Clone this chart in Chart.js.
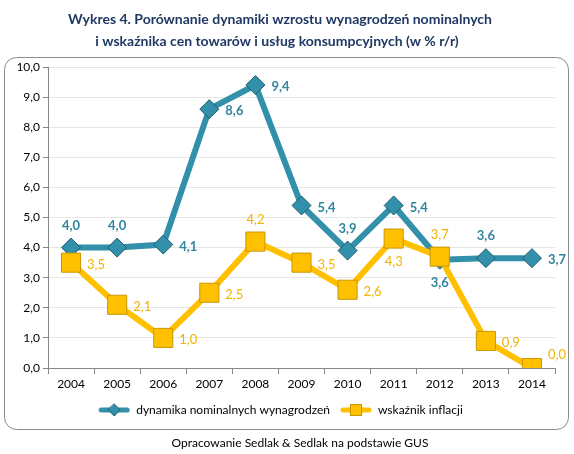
<!DOCTYPE html>
<html><head><meta charset="utf-8">
<script src="https://cdn.jsdelivr.net/npm/chart.js@4/dist/chart.umd.min.js"></script>
<style>html,body{margin:0;padding:0;background:#fff}#w{width:574px;height:454px}</style>
</head><body><div id="w"><canvas id="c" width="574" height="454"></canvas></div>
<script>
const years = ['2004','2005','2006','2007','2008','2009','2010','2011','2012','2013','2014'];
const wages = [4.0, 4.0, 4.1, 8.6, 9.4, 5.4, 3.9, 5.4, 3.6, 3.65, 3.65];
const wageLabels = ['4,0','4,0','4,1','8,6','9,4','5,4','3,9','5,4','3,6','3,6','3,7'];
const inflation = [3.5, 2.1, 1.0, 2.5, 4.2, 3.5, 2.6, 4.3, 3.7, 0.9, 0.0];
const inflationLabels = ['3,5','2,1','1,0','2,5','4,2','3,5','2,6','4,3','3,7','0,9','0,0'];
const wagePos = ['top','top','right','right','right','right','top','right','bottom','top','right'];
const inflPos = ['right','right','right','right','top','right','right','bottom','top','right','rightTop'];
const yTicks = [0,1,2,3,4,5,6,7,8,9,10];
const seriesNames = ['dynamika nominalnych wynagrodzeń','wskaźnik inflacji'];
const titleLines = ['Wykres 4. Porównanie dynamiki wzrostu wynagrodzeń nominalnych','i wskaźnika cen towarów i usług konsumpcyjnych (w % r/r)'];
const sourceText = 'Opracowanie Sedlak & Sedlak na podstawie GUS';

const TEAL='#3390AA', TEAL_D='#215E70', YEL='#FFC000', YEL_D='#C99700';
const FONT = "Lato, 'Open Sans', sans-serif";

function legendIcon(color, border, style){
  const c=document.createElement('canvas'); c.width=32; c.height=14;
  const x=c.getContext('2d');
  x.strokeStyle=color; x.lineWidth=5; x.lineCap='round';
  x.beginPath(); x.moveTo(3,7); x.lineTo(29,7); x.stroke();
  x.fillStyle=color; x.strokeStyle=border; x.lineWidth=1;
  if(style==='diamond'){x.beginPath();x.moveTo(16,1);x.lineTo(22,7);x.lineTo(16,13);x.lineTo(10,7);x.closePath();x.fill();x.stroke();}
  else {x.fillRect(10.5,1.5,11,11);x.strokeRect(10.5,1.5,11,11);}
  return c;
}

const labelPlugin = {
  id:'pointLabels',
  afterDatasetsDraw(chart){
    const ctx=chart.ctx;
    chart.data.datasets.forEach((ds,di)=>{
      const meta=chart.getDatasetMeta(di);
      meta.data.forEach((pt,i)=>{
        const p=ds._pos[i]; let x=pt.x, y=pt.y, align='center';
        if(p==='top'){y-=22;}
        else if(p==='bottom'){y+=23;}
        else if(p==='right'){x+=16; align='left'; y+=2;}
        else if(p==='rightTop'){x+=16; align='left'; y-=13;}
        ctx.save(); ctx.font=ds._labelFont; ctx.fillStyle=ds._labelColor;
        ctx.textAlign=align; ctx.textBaseline='middle';
        ctx.fillText(ds._labels[i], x, y); ctx.restore();
      });
    });
  }
};
const framePlugin = {
  id:'frame',
  beforeDraw(chart){
    const ctx=chart.ctx; ctx.save();
    ctx.fillStyle='#fff'; ctx.fillRect(0,0,574,454);
    ctx.strokeStyle='#8c8c8c'; ctx.lineWidth=1;
    ctx.beginPath(); ctx.roundRect(4.5,57.5,564,372,12); ctx.stroke();
    ctx.fillStyle='#1F3864'; ctx.font="bold 14px "+FONT; ctx.textAlign='center'; ctx.textBaseline='middle';
    ctx.fillText(titleLines[0],280,19); ctx.fillText(titleLines[1],277,41);
    ctx.fillStyle='#000'; ctx.font="12px "+FONT;
    ctx.fillText(sourceText,300,443);
    ctx.restore();
  }
};

new Chart(document.getElementById('c'),{
  type:'line',
  data:{labels:years,datasets:[
    {label:seriesNames[0],data:wages,borderColor:TEAL,backgroundColor:TEAL,borderWidth:6,
     pointStyle:'rectRot',pointRadius:9.5,pointHoverRadius:9.5,pointBackgroundColor:TEAL,pointBorderColor:TEAL_D,pointBorderWidth:1,
     order:1,_labels:wageLabels,_pos:wagePos,_labelColor:'#31859C',_labelFont:"bold 13px "+FONT,
     tension:0},
    {label:seriesNames[1],data:inflation,borderColor:YEL,backgroundColor:YEL,borderWidth:6,
     pointStyle:'rect',pointRadius:13.5,pointHoverRadius:13.5,pointBackgroundColor:YEL,pointBorderColor:YEL_D,pointBorderWidth:1,
     order:0,_labels:inflationLabels,_pos:inflPos,_labelColor:'#F0B400',_labelFont:"13px "+FONT,
     tension:0}
  ]},
  options:{
    responsive:false,animation:false,
    layout:{padding:{top:67,left:6,right:19,bottom:28}},
    plugins:{
      title:{display:false},tooltip:{enabled:false},
      legend:{position:'bottom',
        labels:{usePointStyle:true,pointStyleWidth:32,font:{family:FONT,size:12},color:'#000',padding:10,boxHeight:14,
          sort:(a,b)=>a.datasetIndex-b.datasetIndex,
          generateLabels(chart){
            return chart.data.datasets.map((d,i)=>({text:d.label,datasetIndex:i,fontColor:'#000',
              pointStyle:i===0?legendIcon(TEAL,TEAL_D,'diamond'):legendIcon(YEL,YEL_D,'rect'),
              fillStyle:d.borderColor,strokeStyle:d.borderColor,lineWidth:0,hidden:false}));
          }}}
    },
    scales:{
      x:{offset:true,
        grid:{display:true,drawOnChartArea:false,offset:true,tickLength:6,color:'#868686'},
        border:{color:'#868686'},
        ticks:{font:{family:FONT,size:12},color:'#000',padding:3,maxRotation:0},
        afterFit(s){s.height=26;}},
      y:{min:0,max:10,
        afterBuildTicks(s){s.ticks=yTicks.map(v=>({value:v}));},
        grid:{color:'#E6E6E6',tickLength:5,tickColor:'#868686'},
        border:{color:'#868686'},
        ticks:{font:{family:FONT,size:12},color:'#000',padding:3,
          callback:v=>v.toFixed(1).replace('.',',')},
        afterFit(s){s.width=42;}}
    }
  },
  plugins:[framePlugin,labelPlugin]
});
</script></body></html>
